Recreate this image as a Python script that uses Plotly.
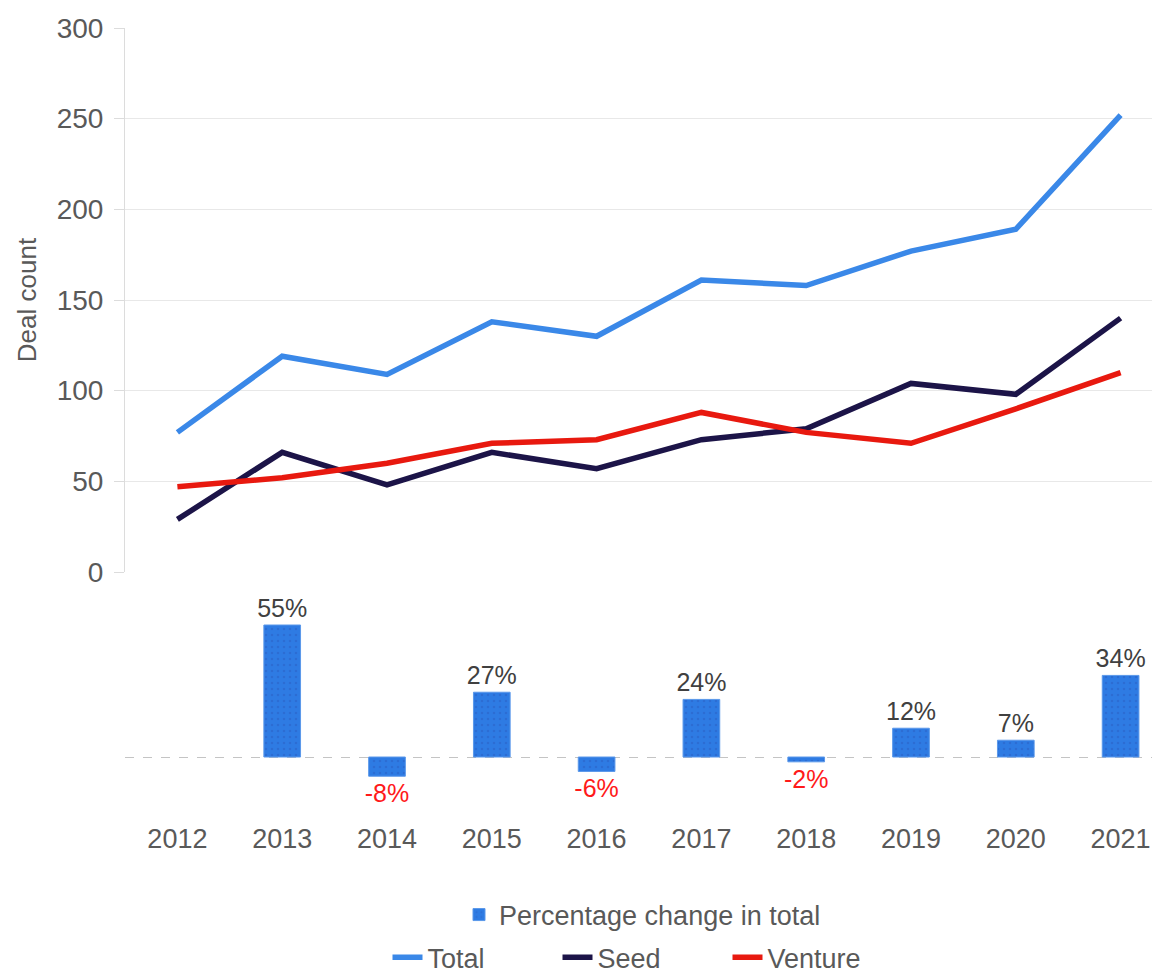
import plotly.graph_objects as go

years = ["2012", "2013", "2014", "2015", "2016", "2017", "2018", "2019", "2020", "2021"]
total = [77, 119, 109, 138, 130, 161, 158, 177, 189, 252]
seed = [29, 66, 48, 66, 57, 73, 79, 104, 98, 140]
venture = [47, 52, 60, 71, 73, 88, 77, 71, 90, 110]
pct_change = [None, 55, -8, 27, -6, 24, -2, 12, 7, 34]
pct_labels = ["", "55%", "-8%", "27%", "-6%", "24%", "-2%", "12%", "7%", "34%"]

FONT = "Liberation Sans, Arial, sans-serif"
GREY = "#595959"

label_colors = ["#ff1a1a" if (v is not None and v < 0) else "#404040" for v in pct_change]

fig = go.Figure()

fig.add_trace(go.Scatter(x=years, y=total, name="Total", mode="lines",
                         line=dict(color="#3a88e8", width=5.5),
                         xaxis="x", yaxis="y", legend="legend2"))
fig.add_trace(go.Scatter(x=years, y=seed, name="Seed", mode="lines",
                         line=dict(color="#1c1448", width=5.5),
                         xaxis="x", yaxis="y", legend="legend2"))
fig.add_trace(go.Scatter(x=years, y=venture, name="Venture", mode="lines",
                         line=dict(color="#e8190f", width=5.5),
                         xaxis="x", yaxis="y", legend="legend2"))

fig.add_trace(go.Bar(x=years, y=pct_change, name="Percentage change in total",
                     width=0.35,
                     marker=dict(color="#2e7be3",
                                 line=dict(color="#5a98ea", width=1),
                                 pattern=dict(shape=".", fgcolor="#2a60c4",
                                              size=6, solidity=0.15,
                                              fillmode="overlay")),
                     text=pct_labels, textposition="outside",
                     textfont=dict(family=FONT, size=25, color=label_colors),
                     constraintext="none", cliponaxis=False,
                     xaxis="x2", yaxis="y2", legend="legend"))

xrange = [-0.5, 9.376]

# page body has an 8px margin, so the figure is offset by 8px
fig.update_layout(
    width=1152, height=972,
    margin=dict(l=117, r=0, t=20, b=168, autoexpand=False),
    paper_bgcolor="white", plot_bgcolor="white",
    font=dict(family=FONT, color=GREY, size=28),
    showlegend=True,
    xaxis=dict(domain=[0, 1], anchor="y", range=xrange, type="category",
               showticklabels=False, showgrid=False, zeroline=False,
               showline=False, ticks="", automargin=False),
    yaxis=dict(domain=[0.3061, 1], anchor="x", range=[0, 300],
               tickvals=[0, 50, 100, 150, 200, 250, 300],
               showgrid=True, gridcolor="#e8e8e8", gridwidth=1,
               zeroline=False, showline=True, linecolor="#dcdcdc",
               linewidth=1, ticks="outside", ticklen=10, tickcolor="#dcdcdc",
               ticklabelstandoff=5, automargin=False,
               tickfont=dict(size=28, color=GREY),
               title=dict(text="Deal count", standoff=12,
                          font=dict(size=26, color=GREY))),
    xaxis2=dict(domain=[0, 1], anchor="y2", range=xrange, type="category",
                showgrid=False, zeroline=False, showline=False, ticks="",
                tickfont=dict(size=27, color=GREY), automargin=False,
                ticklabelstandoff=8),
    yaxis2=dict(domain=[0, 0.2832], anchor="x2", range=[-22.9, 69.6],
                tickvals=[0], showgrid=True, griddash="dash",
                gridcolor="#c4c4c4", gridwidth=1,
                showticklabels=False, ticks="", automargin=False,
                zeroline=False, showline=False),
    legend=dict(orientation="h", x=0.5, xanchor="center",
                y=-0.1314, yanchor="middle",
                font=dict(size=27, color=GREY), bgcolor="rgba(0,0,0,0)",
                itemwidth=30),
    legend2=dict(orientation="h", x=0.5, xanchor="center",
                 y=-0.186, yanchor="middle",
                 font=dict(size=27, color=GREY), bgcolor="rgba(0,0,0,0)",
                 itemwidth=30, entrywidth=125),
)

fig.write_html("out.html")
